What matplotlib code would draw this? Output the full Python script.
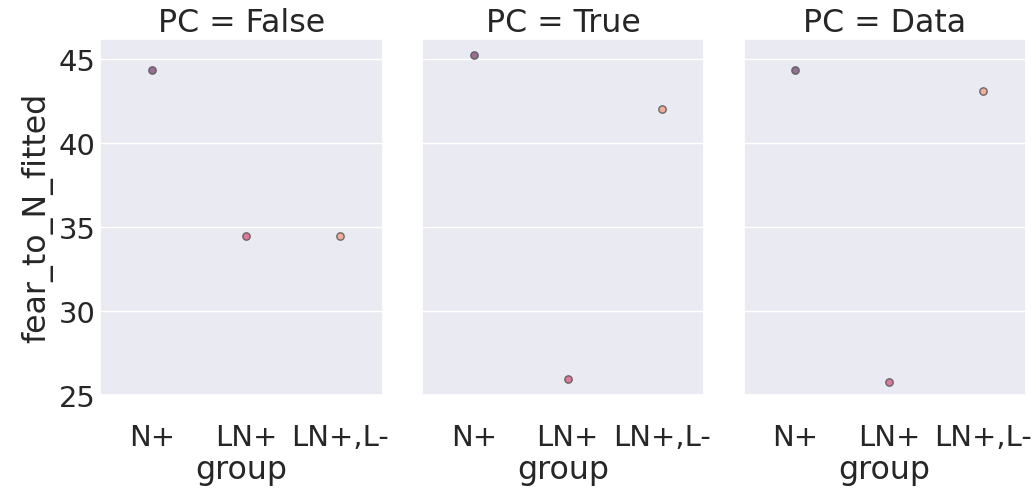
import matplotlib
matplotlib.use("Agg")
import matplotlib.pyplot as plt
import seaborn as sns

sns.set_theme(style="darkgrid", font_scale=1.9)

groups = ["N+", "LN+", "LN+,L-"]
panels = ["False", "True", "Data"]
values = {
    "False": [44.35, 34.45, 34.45],
    "True": [45.25, 25.95, 42.05],
    "Data": [44.35, 25.75, 43.1],
}
colors = ["#8a5a83", "#d9668c", "#f2a58c"]

fig, axes = plt.subplots(1, 3, figsize=(10.36, 4.89), sharey=True)
for ax, pc in zip(axes, panels):
    for i, g in enumerate(groups):
        ax.scatter([i], [values[pc][i]], s=28, color=colors[i], edgecolor="#555555",
                   linewidth=1, alpha=0.85, zorder=3)
    ax.set_xticks(range(3))
    ax.set_xticklabels(groups)
    ax.set_xlim(-0.55, 2.45)
    ax.set_title(f"PC = {pc}")
    ax.set_xlabel("group", labelpad=2)
    ax.grid(axis="x", visible=False)
    ax.tick_params(axis="y", length=0)
    ax.tick_params(axis="x", pad=14)
axes[0].set_ylim(25, 46.2)
axes[0].set_yticks([25, 30, 35, 40, 45])
axes[0].set_ylabel("fear_to_N_fitted")
plt.subplots_adjust(left=0.097, right=0.99, top=0.918, bottom=0.19, wspace=0.14)
fig.savefig("out.png", dpi=100)
